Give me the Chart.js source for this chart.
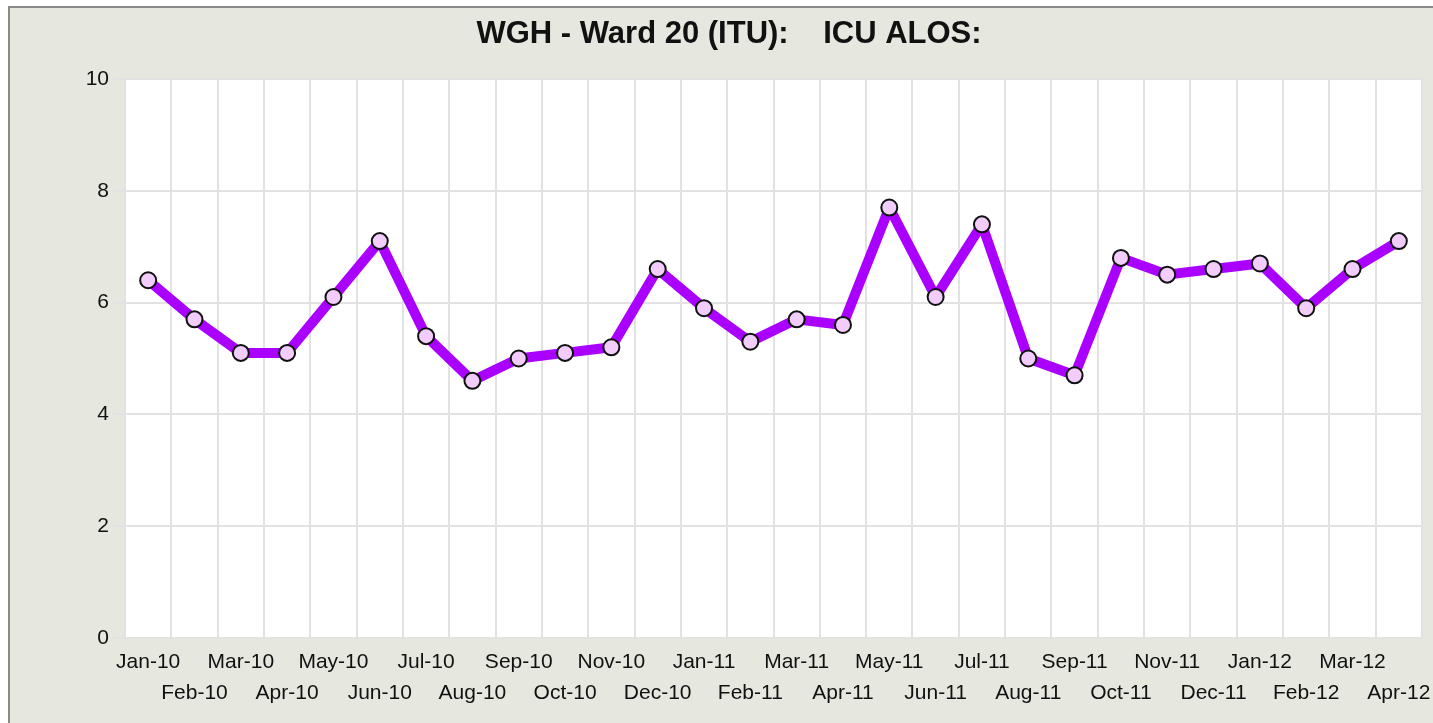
<!DOCTYPE html>
<html>
<head>
<meta charset="utf-8">
<script src="https://cdn.jsdelivr.net/npm/chart.js@4"></script>
<style>
  html, body { margin: 0; padding: 0; overflow: hidden; background: #fff; }
  #wrap {
    position: absolute; left: 8px; top: 6px;
    width: 1438px; height: 717px;
    border-top: 2px solid #8a8a88; border-left: 2px solid #8a8a88;
    background: #e6e8df;
  }
</style>
</head>
<body>
<div id="wrap"><canvas id="chart"></canvas></div>
<script>
// months Jan-10 .. Apr-12
let months = ['Jan-10', 'Feb-10', 'Mar-10', 'Apr-10', 'May-10', 'Jun-10', 'Jul-10', 'Aug-10',
   'Sep-10', 'Oct-10', 'Nov-10', 'Dec-10', 'Jan-11', 'Feb-11', 'Mar-11', 'Apr-11',
   'May-11', 'Jun-11', 'Jul-11', 'Aug-11', 'Sep-11', 'Oct-11', 'Nov-11', 'Dec-11',
   'Jan-12', 'Feb-12', 'Mar-12', 'Apr-12']
let alos = [6.4, 5.7, 5.1, 5.1, 6.1, 7.1, 5.4, 4.6,
   5.0, 5.1, 5.2, 6.6, 5.9, 5.3, 5.7, 5.6,
   7.7, 6.1, 7.4, 5.0, 4.7, 6.8, 6.5, 6.6,
   6.7, 5.9, 6.6, 7.1]
let yTicks = [0, 2, 4, 6, 8, 10]
let titleText = 'WGH - Ward 20 (ITU):    ICU ALOS:'

const font = "'Liberation Sans', Arial, sans-serif"

// white plot area + title centred on the whole frame
const plotBg = {
   id: 'plotBg',
   beforeDraw: (chart) => {
      const { ctx, chartArea } = chart
      ctx.save()
      ctx.fillStyle = '#ffffff'
      ctx.fillRect(chartArea.left, chartArea.top, chartArea.right - chartArea.left, chartArea.bottom - chartArea.top)
      ctx.fillStyle = '#111111'
      ctx.font = `bold 31px ${font}`
      ctx.textAlign = 'center'
      ctx.textBaseline = 'alphabetic'
      ctx.fillText(titleText, chart.width / 2, 35)
      ctx.restore()
   }
}

const ctx = document.getElementById('chart').getContext('2d')
const myChart = new Chart(ctx, {
   type: 'line',
   data: {
      labels: months,
      datasets: [{
         data: alos,
         borderColor: '#aa00ff',
         borderWidth: 10,
         borderJoinStyle: 'round',
         pointRadius: 8,
         pointHoverRadius: 8,
         pointBackgroundColor: '#f2ccfa',
         pointBorderColor: '#111111',
         pointBorderWidth: 2,
         tension: 0
      }]
   },
   options: {
      responsive: true,
      maintainAspectRatio: false,
      animation: false,
      layout: { padding: { left: 0, right: 26, top: 71, bottom: 0 } },
      plugins: {
         legend: { display: false },
         tooltip: { enabled: false },
         title: { display: false }
      },
      scales: {
         x: {
            offset: true,
            afterFit: (axis) => { axis.height = 87 },
            grid: { color: '#e2e2e2', lineWidth: 2, drawTicks: false, offset: true },
            border: { display: false },
            ticks: {
               autoSkip: false,
               maxRotation: 0,
               padding: 8,
               color: '#111',
               font: { family: font, size: 21, lineHeight: 1.5 },
               callback: function (val, i) {
                  let l = months[i]
                  return i % 2 == 0 ? [l, ''] : ['', l]
               }
            }
         },
         y: {
            min: 0,
            max: 10,
            afterFit: (axis) => { axis.width = 115 },
            afterBuildTicks: (axis) => { axis.ticks = yTicks.map(v => ({ value: v })) },
            grid: { color: '#e2e2e2', lineWidth: 2, tickLength: 12 },
            border: { display: true, color: '#e2e2e2', width: 2 },
            ticks: {
               padding: 4,
               color: '#111',
               font: { family: font, size: 21 }
            }
         }
      }
   },
   plugins: [plotBg]
})
</script>
</body>
</html>
